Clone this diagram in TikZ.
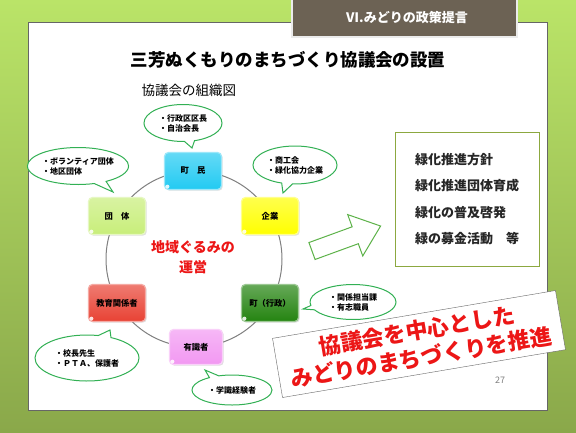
\documentclass[tikz,border=0pt]{standalone}
\usepackage{fontspec}
\setmainfont{Noto Sans CJK JP}
\usepackage{xcolor}
\usepackage{tikz}
\usetikzlibrary{shapes.geometric, shapes.callouts, shadows}
\definecolor{bglime}{RGB}{186,228,104}
\definecolor{bgolive}{RGB}{138,168,74}
\definecolor{tabbrown}{RGB}{108,98,84}
\definecolor{bubblegreen}{RGB}{50,176,84}
\definecolor{arrowgreen}{RGB}{92,178,72}
\definecolor{framegreen}{RGB}{140,168,64}
\definecolor{slogared}{RGB}{236,22,22}
\definecolor{chominblue}{RGB}{34,202,242}
\definecolor{dantaigreen}{RGB}{200,238,122}
\definecolor{kigyoyellow}{RGB}{255,255,0}
\definecolor{kyoikured}{RGB}{232,66,52}
\definecolor{gyoseigreen}{RGB}{36,132,16}
\definecolor{yushikipink}{RGB}{242,152,242}

\begin{document}
\begin{tikzpicture}[x=1pt, y=-1pt,
  orgbox/.style={rounded corners=4pt, minimum width=57pt, minimum height=37pt,
    top color=#1!70!white, bottom color=#1, draw=#1!45!white, line width=1.2pt,
    drop shadow={shadow xshift=1.2pt, shadow yshift=-1.2pt, opacity=0.25},
    font=\fontsize{8.3}{10}\selectfont\bfseries},
  bubble/.style={ellipse callout, draw=bubblegreen, line width=1pt, fill=white,
    inner sep=0pt, align=left, font=\fontsize{8}{10}\selectfont\bfseries},
]
  \useasboundingbox (0,0) rectangle (576,432);
  % Slide background
  \shade[top color=bglime, bottom color=bgolive] (0,0) rectangle (576,432);
  \draw[gray!80!black, fill=white] (28,22) rectangle (547,410);
  \draw[draw=black!8, fill=tabbrown, line width=2.5pt] (292,-5) rectangle (517,37);
  \node[text=white, font=\fontsize{13}{15}\selectfont\bfseries] (tabtext) at (407,18) {Ⅵ.みどりの政策提言};

  % Titles
  \node[font=\fontsize{17.5}{20}\selectfont\bfseries] (title) at (288,60) {三芳ぬくもりのまちづくり協議会の設置};
  \node[anchor=west, font=\fontsize{13.5}{16}\selectfont] (subtitle) at (138,90) {協議会の組織図};

  % Organisation ring
  \node[circle, draw=gray, line width=1pt, minimum size=176pt, inner sep=0pt] (ring) at (194,259) {};
  \node[orgbox=chominblue]  (chomin)  at (193,171) {町\hspace{1em}民};
  \node[orgbox=dantaigreen] (dantai)  at (117,216) {団\hspace{1em}体};
  \node[orgbox=kigyoyellow] (kigyo)   at (270,216) {企業};
  \node[orgbox=kyoikured]   (kyoiku)  at (117,303) {教育関係者};
  \node[orgbox=gyoseigreen] (gyosei)  at (270,303) {町（行政）};
  \node[orgbox=yushikipink, minimum width=53pt, minimum height=35pt] (yushiki) at (196,347) {有識者};
  \foreach \b in {chomin,dantai,kigyo,kyoiku,gyosei,yushiki} {
    \fill[white, opacity=0.85] ([shift={(3.5,-3.5)}]\b.south west) circle (2pt);
  }
  \node[text=slogared, align=center, font=\fontsize{14}{19.5}\selectfont\bfseries] (core) at (193,257) {地域ぐるみの\\運営};

  % Speech bubbles
  \node[bubble, minimum width=78pt, minimum height=37pt, callout absolute pointer={(192,148)}] (b1) at (183,123) {・行政区区長\\・自治会長};
  \node[bubble, minimum width=97pt, minimum height=37pt, callout absolute pointer={(113,192)}] (b2) at (78,166) {・ボランティア団体\\・地区団体};
  \node[bubble, minimum width=84pt, minimum height=38pt, callout absolute pointer={(283,193)}] (b3) at (295,165) {・商工会\\・緑化協力企業};
  \node[bubble, minimum width=86pt, minimum height=35pt, callout absolute pointer={(303,309)}] (b4) at (353,302) {・関係担当課\\・有志職員};
  \node[bubble, minimum width=104pt, minimum height=46pt, callout absolute pointer={(110,330)}] (b5) at (87,358) {・校長先生\\・ＰＴＡ、保護者};
  \node[bubble, minimum width=80pt, minimum height=30pt, callout absolute pointer={(205,370)}] (b6) at (232,390) {・学識経験者};

  % Block arrow
  \begin{scope}[shift={(312,251)}, rotate=20]
    \draw[arrowgreen, line width=1pt, fill=white]
      (0,-9) -- (46,-9) -- (46,-22) -- (73,0) -- (46,22) -- (46,9) -- (0,9) -- cycle;
  \end{scope}

  % Policy list
  \node[draw=framegreen, line width=1pt, minimum width=144pt, minimum height=134pt, align=left,
    text=black!85, font=\fontsize{13}{26.5}\selectfont\bfseries] (policy) at (467,199)
    {緑化推進方針\\緑化推進団体育成\\緑化の普及啓発\\緑の募金活動　等};

  % Slogan
  \node[rotate=9.6, draw=gray!80!black, fill=white, minimum width=287pt, minimum height=60pt,
    inner sep=0pt, align=center, text=slogared, font=\fontsize{22}{27}\selectfont\bfseries] (slogan) at (419,344)
    {協議会を中心とした\\みどりのまちづくりを推進};
  \node[text=gray, font=\fontsize{9}{10}\selectfont] (pagenum) at (500,380) {27};
\end{tikzpicture}
\end{document}
